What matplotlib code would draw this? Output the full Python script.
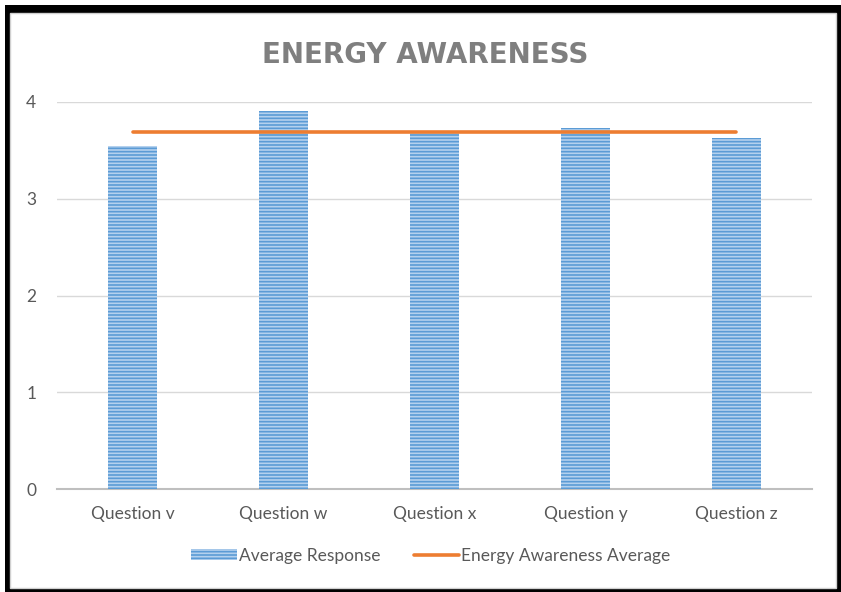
import matplotlib.pyplot as plt
from matplotlib.patches import Rectangle

# Survey results
questions = ['Question v', 'Question w', 'Question x', 'Question y', 'Question z']
avg_response = [3.55, 3.91, 3.69, 3.73, 3.63]
awareness_avg = [3.69, 3.69, 3.69, 3.69, 3.69]
y_ticks = [0, 1, 2, 3, 4]

plt.rcParams['font.family'] = ['Lato', 'DejaVu Sans']
plt.rcParams['hatch.linewidth'] = 1.2

W, H = 841, 592
fig = plt.figure(figsize=(W / 100, H / 100), dpi=100)

# black frame around the chart
fig.patches.append(Rectangle((5 / W, 0), 1 - 5 / W, 1 - 5 / H, transform=fig.transFigure,
                             facecolor='black', edgecolor='none', zorder=0))
fig.patches.append(Rectangle((10 / W, 4 / H), 826 / W, 575 / H, transform=fig.transFigure,
                             facecolor='white', edgecolor='#D0D0D0', linewidth=1, zorder=1))

ax = fig.add_axes([57 / W, (H - 489) / H, 755 / W, 387 / H])
ax.set_facecolor('none')
ax.set_zorder(2)

x = list(range(len(questions)))
bars = ax.bar(x, avg_response, width=0.32, color='#B4D1EE', edgecolor='#5B9BD5', hatch='-----',
              linewidth=0, label='Average Response', zorder=3)
line, = ax.plot(x, awareness_avg, color='#ED7D31', linewidth=2.6, solid_capstyle='round',
                label='Energy Awareness Average', zorder=4)

ax.set_xlim(-0.5, len(questions) - 0.5)
ax.set_ylim(0, 4)
ax.set_yticks(y_ticks)
ax.set_xticks(x)
ax.set_xticklabels(questions)
ax.tick_params(length=0, labelsize=12.5, labelcolor='#595959')
ax.tick_params(axis='y', pad=15)
ax.tick_params(axis='x', pad=12)
ax.grid(axis='y', color='#D9D9D9', linewidth=1)
ax.set_axisbelow(True)
for s in ['top', 'right', 'left']:
    ax.spines[s].set_visible(False)
ax.spines['bottom'].set_color('#BFBFBF')
ax.spines['bottom'].set_linewidth(1.5)

fig.text(425 / W, 1 - 55 / H, 'ENERGY AWARENESS', ha='center', va='center',
         fontsize=20, fontweight='bold', color='#7F7F7F', family=['DejaVu Sans'])

leg = ax.legend([bars, line], ['Average Response', 'Energy Awareness Average'],
                loc='center', bbox_to_anchor=(431 / W, 1 - 556 / H),
                bbox_transform=fig.transFigure, ncol=2, frameon=False,
                fontsize=12.5, handlelength=2.6, handleheight=0.6,
                handletextpad=0.15, columnspacing=1.9)
for t in leg.get_texts():
    t.set_color('#595959')

fig.savefig('out.png', dpi=100)
